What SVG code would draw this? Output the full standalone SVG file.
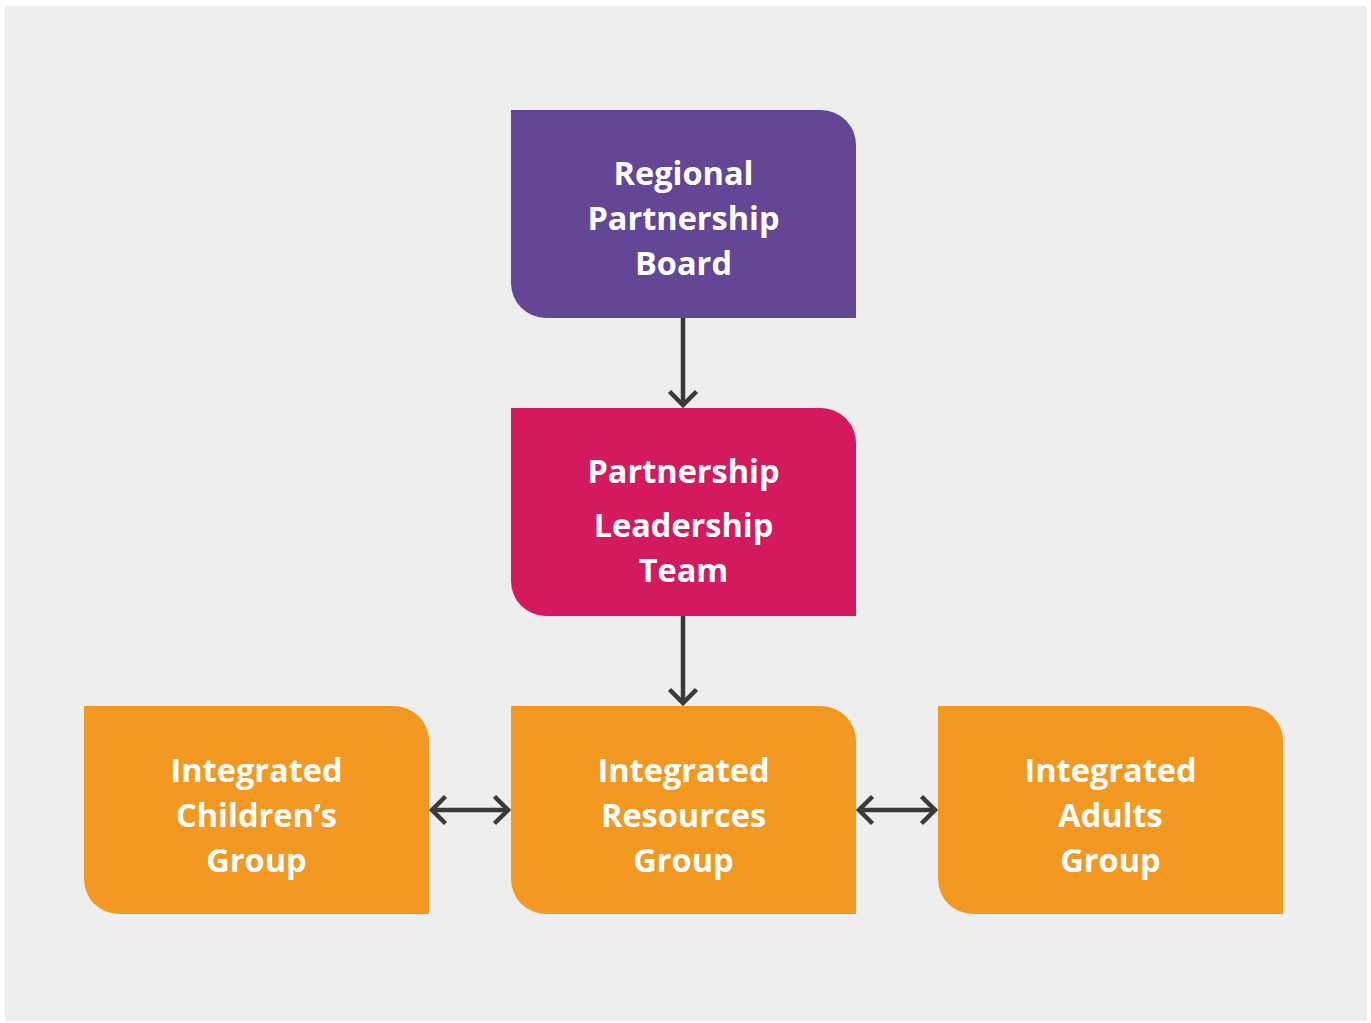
<svg xmlns="http://www.w3.org/2000/svg" width="1371" height="1023" viewBox="0 0 1371 1023">
  <style>
    .label { font-family: "Open Sans", "Noto Sans", "Liberation Sans", sans-serif; font-weight: 700; font-size: 32.5px; fill: #ffffff; text-anchor: middle; }
    .link { stroke: #3a3a3a; stroke-width: 4.5; fill: none; }
    .head { stroke: #3a3a3a; stroke-width: 4.5; fill: none; stroke-linecap: butt; stroke-linejoin: miter; }
  </style>
  <defs>
    <!-- box with rounded top-right and bottom-left corners, 345 x 208 -->
    <path id="leaf" d="M0,0 H310 A35,35 0 0 1 345,35 V208 H35 A35,35 0 0 1 0,173 Z"/>
  </defs>

  <rect x="0" y="0" width="1371" height="1023" fill="#ffffff"/>
  <rect x="5" y="6" width="1362" height="1015" fill="#eeeeee"/>

  <g id="connectors">
    <!-- board to leadership team -->
    <line class="link" x1="683" y1="318" x2="683" y2="404"/>
    <polyline class="head" points="669.5,391.5 683,405 696.5,391.5"/>
    <!-- leadership team to resources group -->
    <line class="link" x1="683" y1="616" x2="683" y2="702"/>
    <polyline class="head" points="669.5,689.5 683,703 696.5,689.5"/>
    <!-- children's group to resources group -->
    <line class="link" x1="434" y1="810" x2="506" y2="810"/>
    <polyline class="head" points="445.5,796.5 432,810 445.5,823.5"/>
    <polyline class="head" points="494.5,796.5 508,810 494.5,823.5"/>
    <!-- resources group to adults group -->
    <line class="link" x1="861" y1="810" x2="933" y2="810"/>
    <polyline class="head" points="872.5,796.5 859,810 872.5,823.5"/>
    <polyline class="head" points="921.5,796.5 935,810 921.5,823.5"/>
  </g>

  <g id="regional-partnership-board">
    <use href="#leaf" x="511" y="110" fill="#634796"/>
    <text class="label" x="683.5" y="185">Regional</text>
    <text class="label" x="683.5" y="230">Partnership</text>
    <text class="label" x="683.5" y="275">Board</text>
  </g>

  <g id="partnership-leadership-team">
    <use href="#leaf" x="511" y="408" fill="#d4195e"/>
    <text class="label" x="683.5" y="483">Partnership</text>
    <text class="label" x="683.5" y="537">Leadership</text>
    <text class="label" x="683.5" y="582">Team</text>
  </g>

  <g id="integrated-childrens-group">
    <use href="#leaf" x="84" y="706" fill="#f39921"/>
    <text class="label" x="256.5" y="782">Integrated</text>
    <text class="label" x="256.5" y="827">Children’s</text>
    <text class="label" x="256.5" y="872">Group</text>
  </g>

  <g id="integrated-resources-group">
    <use href="#leaf" x="511" y="706" fill="#f39921"/>
    <text class="label" x="683.5" y="782">Integrated</text>
    <text class="label" x="683.5" y="827">Resources</text>
    <text class="label" x="683.5" y="872">Group</text>
  </g>

  <g id="integrated-adults-group">
    <use href="#leaf" x="938" y="706" fill="#f39921"/>
    <text class="label" x="1110.5" y="782">Integrated</text>
    <text class="label" x="1110.5" y="827">Adults</text>
    <text class="label" x="1110.5" y="872">Group</text>
  </g>
</svg>
